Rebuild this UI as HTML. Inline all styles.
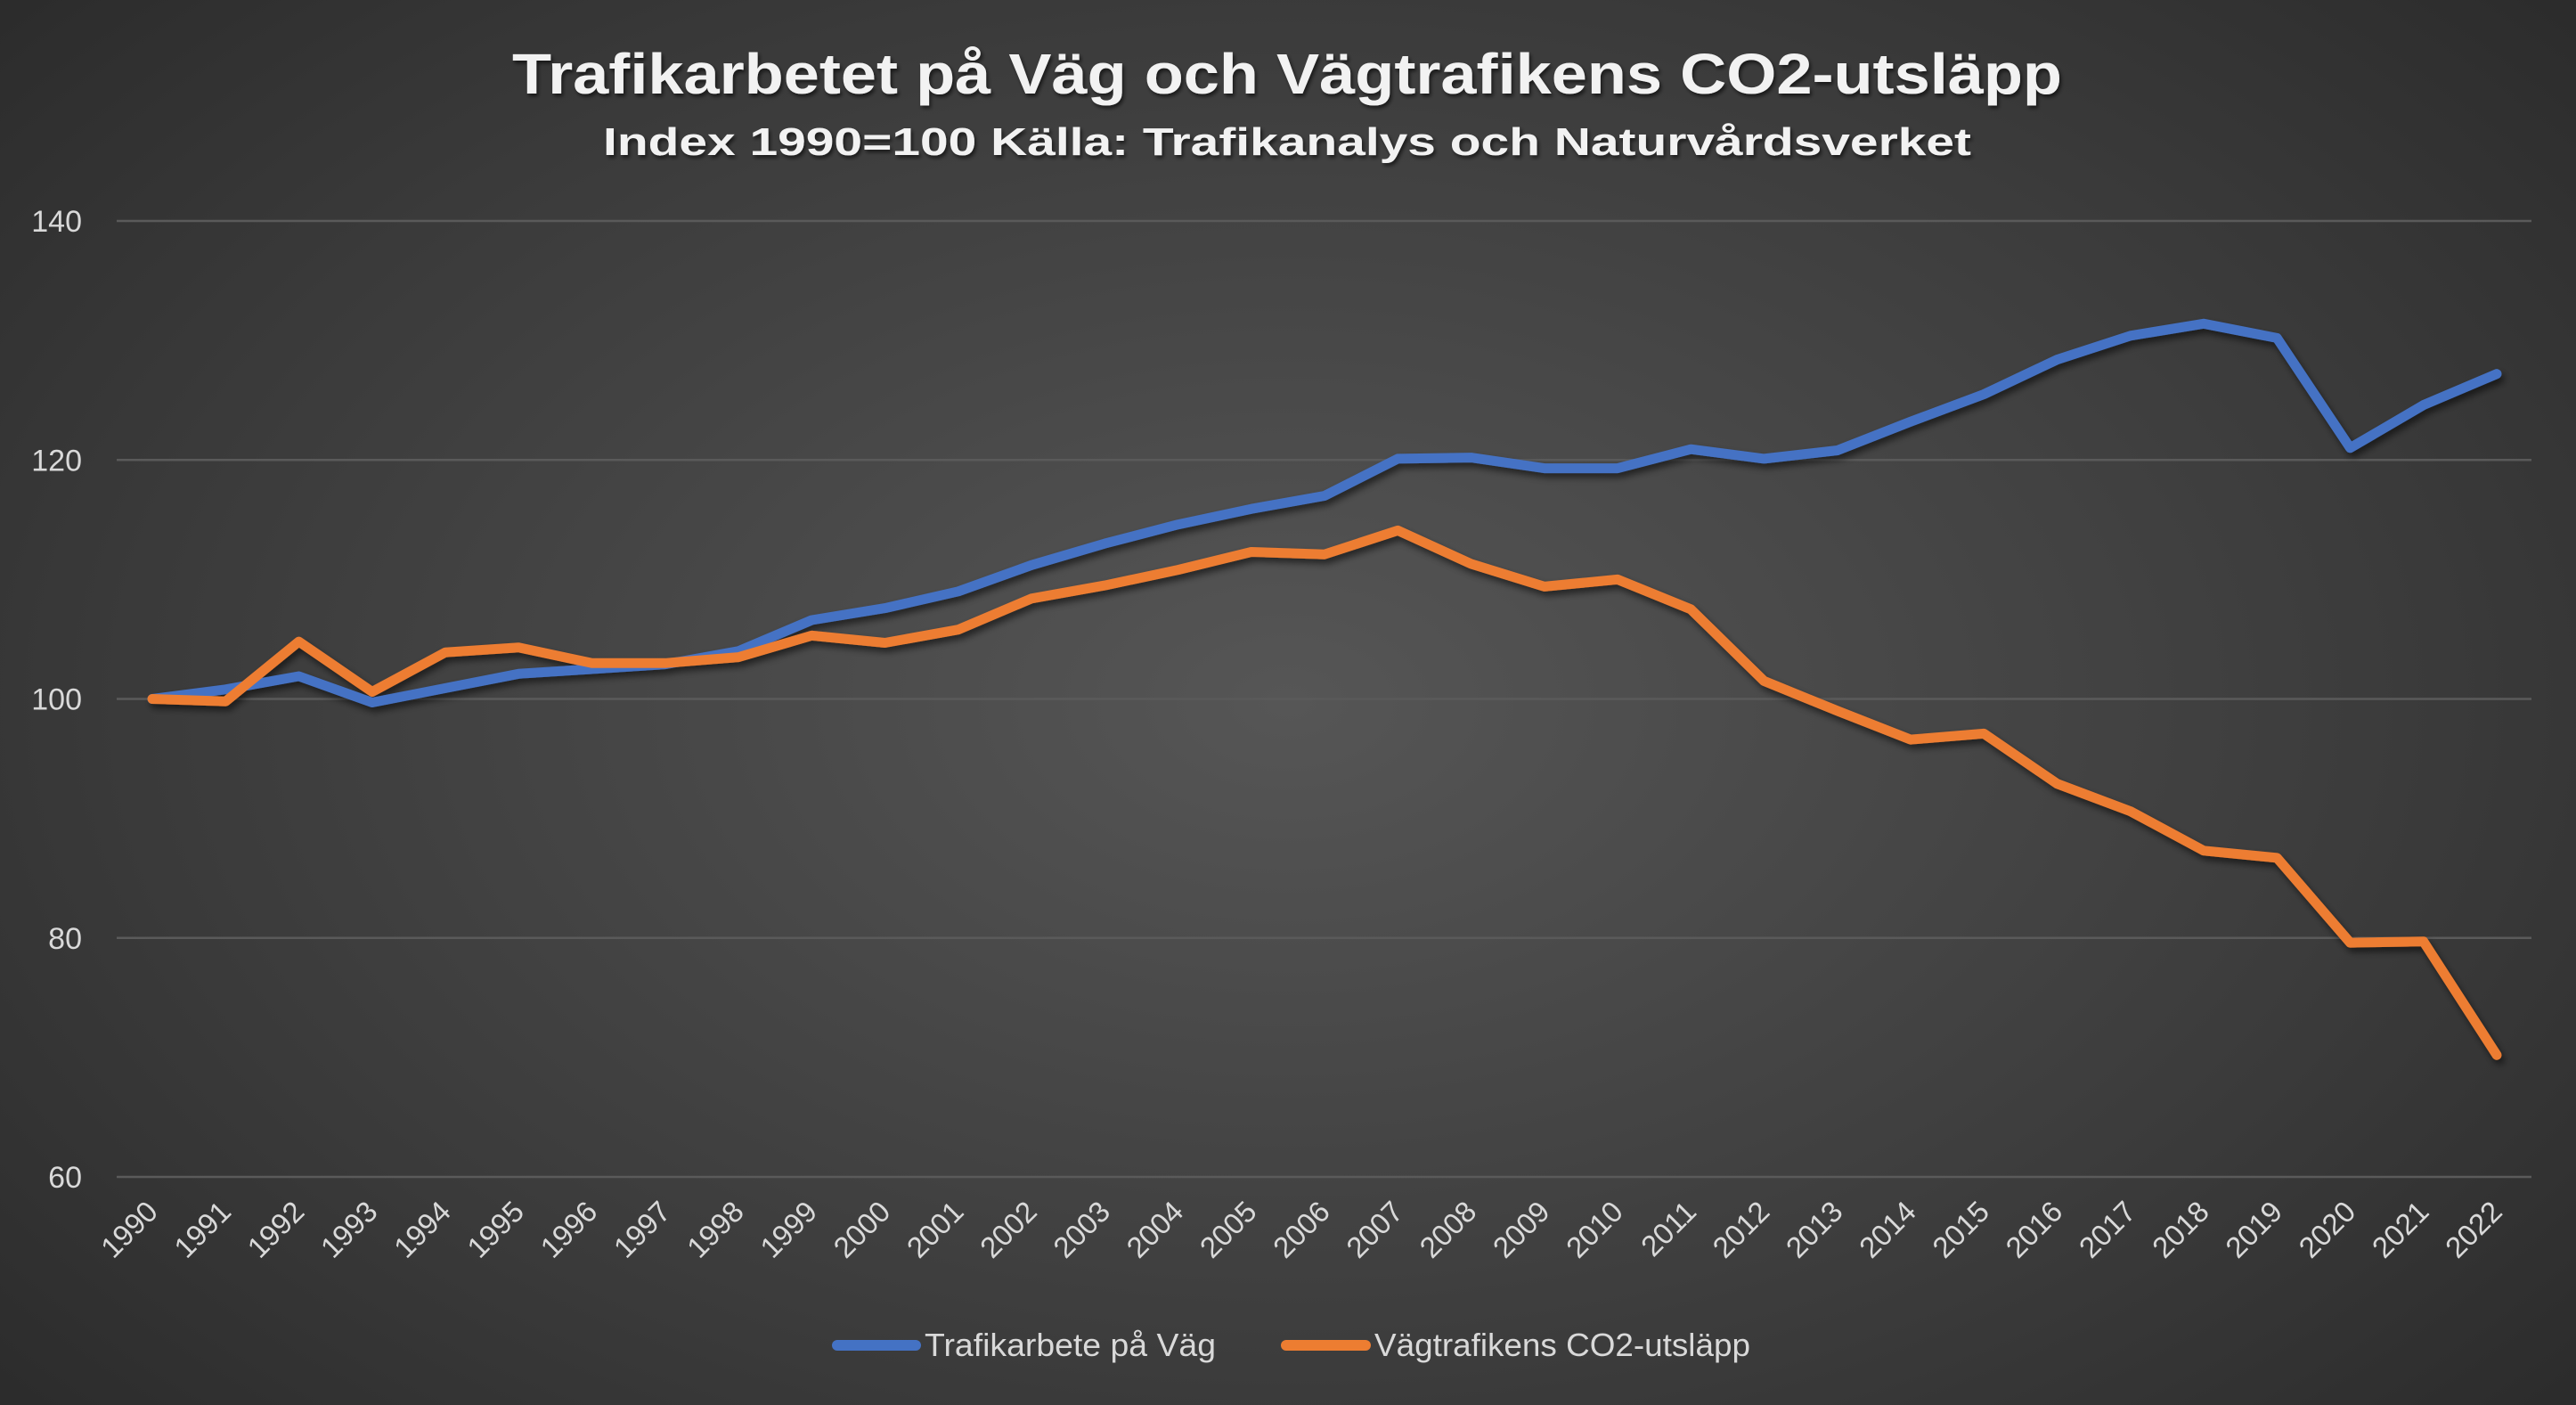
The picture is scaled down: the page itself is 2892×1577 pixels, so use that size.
<!DOCTYPE html>
<html><head><meta charset="utf-8"><style>
html,body{margin:0;padding:0;}
body{width:2892px;height:1577px;overflow:hidden;background:radial-gradient(ellipse 75% 85% at 50% 50%,#565656 0%,#3a3a3a 60%,#262626 100%);}
svg{display:block;font-family:"Liberation Sans",sans-serif;}
</style></head><body>
<svg id="s" width="2892" height="1577" xmlns="http://www.w3.org/2000/svg">
<defs><filter id="sh" x="-5%" y="-5%" width="110%" height="120%"><feDropShadow dx="3" dy="5" stdDeviation="4" flood-color="#000" flood-opacity="0.55"/></filter>
<filter id="tsh"><feDropShadow dx="2" dy="3" stdDeviation="2" flood-color="#000" flood-opacity="0.6"/></filter></defs>
<g filter="url(#tsh)" fill="#f2f2f2" font-weight="bold" text-anchor="middle">
<text x="1445" y="105" font-size="64" textLength="1740" lengthAdjust="spacingAndGlyphs">Trafikarbetet på Väg och Vägtrafikens CO2-utsläpp</text>
<text x="1445" y="174" font-size="44" textLength="1536" lengthAdjust="spacingAndGlyphs">Index 1990=100 Källa: Trafikanalys och Naturvårdsverket</text>
</g>
<g id="grid" stroke="#5a5a5a" stroke-width="2.5"></g>
<g id="yl" fill="#d9d9d9" font-size="34" text-anchor="end"></g>
<g id="xl" fill="#d9d9d9" font-size="33" text-anchor="end"></g>
<g id="ln" filter="url(#sh)" fill="none" stroke-width="11" stroke-linejoin="round" stroke-linecap="round"></g>
<line x1="940" y1="1510" x2="1028" y2="1510" stroke="#4472c4" stroke-width="12" stroke-linecap="round"/>
<text x="1038" y="1522" fill="#d9d9d9" font-size="36" textLength="327" lengthAdjust="spacingAndGlyphs">Trafikarbete på Väg</text>
<line x1="1444" y1="1510" x2="1533" y2="1510" stroke="#ed7d31" stroke-width="12" stroke-linecap="round"/>
<text x="1543" y="1522" fill="#d9d9d9" font-size="36" textLength="422" lengthAdjust="spacingAndGlyphs">Vägtrafikens CO2-utsläpp</text>
</svg>
<script>
var NS="http://www.w3.org/2000/svg";
function el(p,t,a,txt){var e=document.createElementNS(NS,t);for(var k in a)e.setAttribute(k,a[k]);if(txt!=null)e.textContent=txt;document.getElementById(p).appendChild(e);}
function Y(v){return 248+(140-v)*13.4125;}
function X(i){return 171+i*82.25;}
for(var v=60;v<=140;v+=20){el("grid","line",{x1:131,x2:2842,y1:Y(v),y2:Y(v)});el("yl","text",{x:92,y:Y(v)+12},v);}
for(var i=0;i<33;i++){var x=X(i)+8,y=1362;el("xl","text",{x:x,y:y,transform:"rotate(-45 "+x+" "+y+")"},1990+i);}
var b=[100,100.8,101.9,99.7,100.9,102.1,102.5,102.9,104,106.6,107.6,109,111.2,113,114.6,115.9,117,120.1,120.2,119.3,119.3,120.9,120.1,120.8,123.2,125.5,128.4,130.4,131.4,130.2,121,124.6,127.2];
var o=[100,99.8,104.8,100.6,103.9,104.3,103,103,103.5,105.3,104.7,105.8,108.4,109.5,110.8,112.3,112.1,114.1,111.3,109.4,110,107.5,101.5,99,96.6,97.1,92.9,90.6,87.3,86.7,79.6,79.7,70.2];
function pts(a){return a.map(function(v,i){return X(i).toFixed(1)+","+Y(v).toFixed(1);}).join(" ");}
el("ln","polyline",{points:pts(b),stroke:"#4472c4"});
el("ln","polyline",{points:pts(o),stroke:"#ed7d31"});
</script>
</body></html>
